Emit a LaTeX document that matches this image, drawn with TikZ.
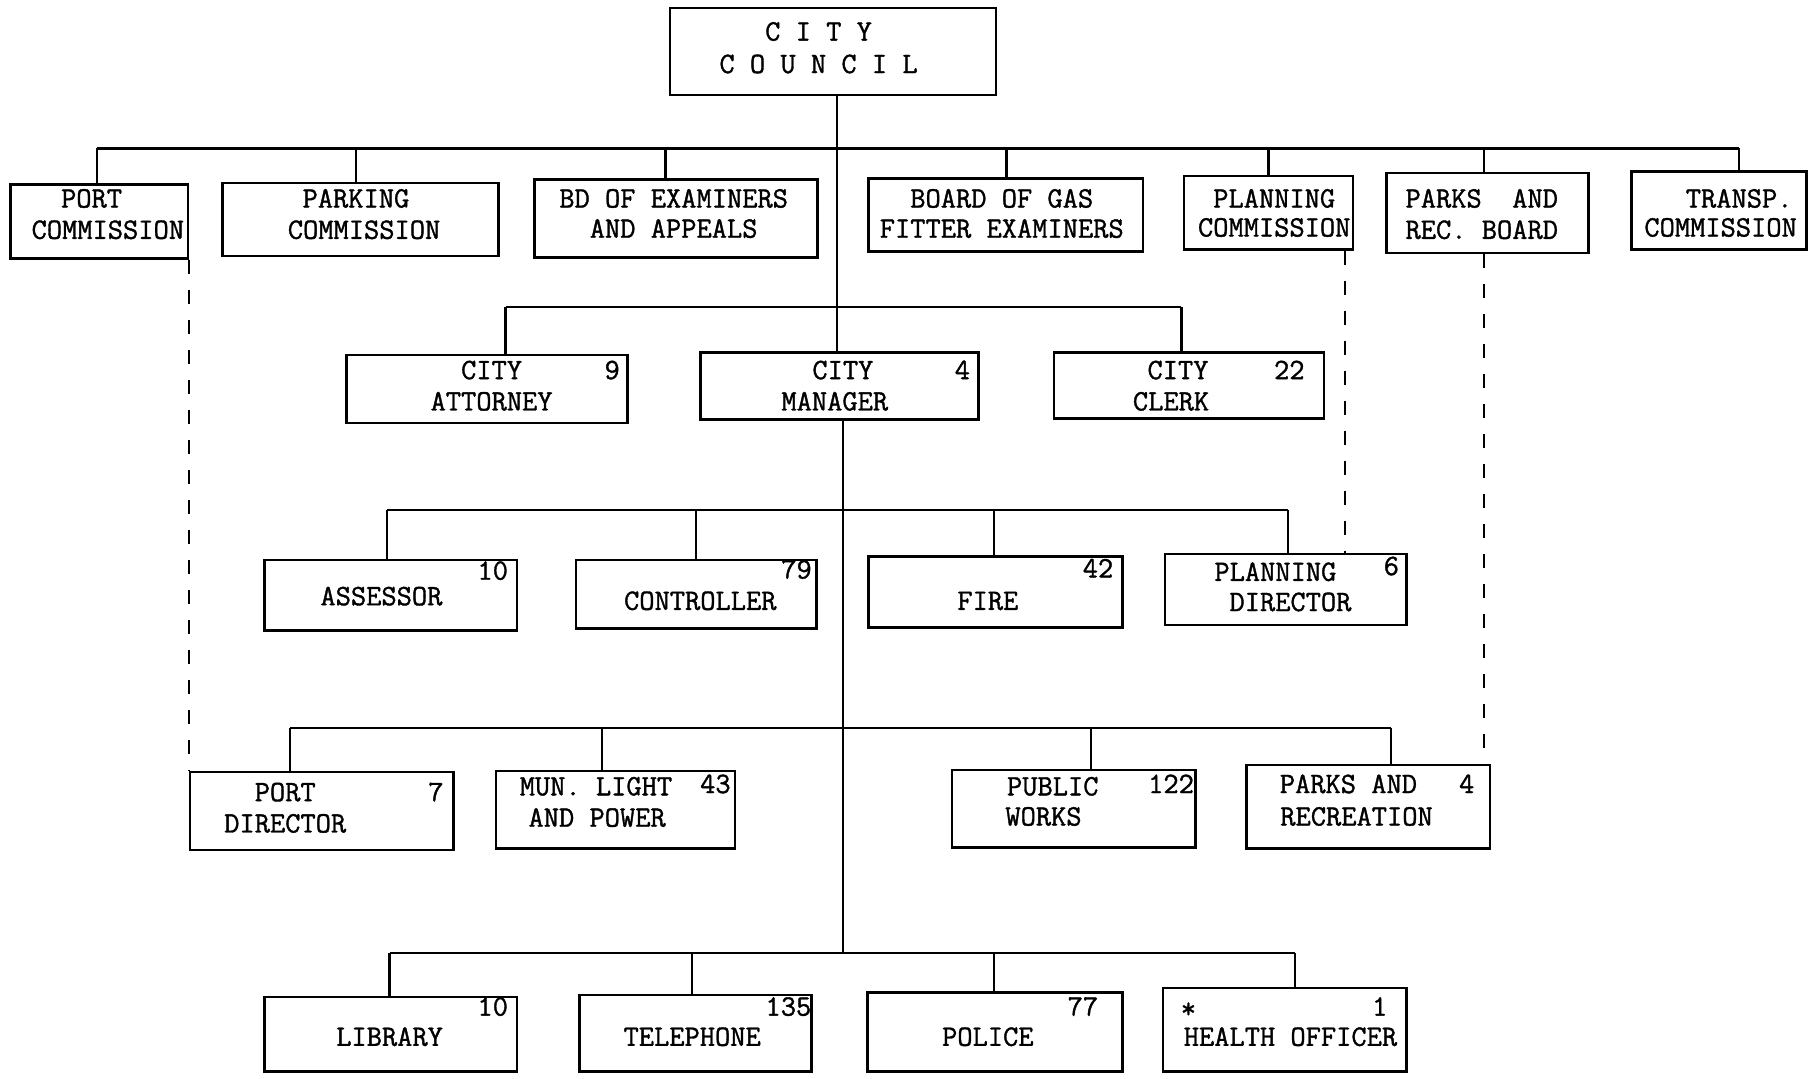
\documentclass[tikz,border=0pt]{standalone}
\usepackage{fontspec}
\newfontfamily\typewriter{Latin Modern Mono}[FakeBold=1.2]
\usetikzlibrary{fit}
\begin{document}
\begin{tikzpicture}[x=0.5797pt,y=-0.5797pt,
  box/.style={draw, line width=1.25pt, inner sep=0pt, rectangle},
  lbl/.style={anchor=base, inner sep=0pt, font=\typewriter\fontsize{14.8}{16}\selectfont},
  link/.style={line width=1.1pt},
  dashlink/.style={line width=1pt, dash pattern=on 7pt off 8pt}]
\useasboundingbox[fill=white] (0,0) rectangle (1568,930);

% ---------- boxes ----------
\node[box, fit={(578,7) (859,82)}] (cc) {};
\node[box, fit={(9,159) (162,223)}] (pc) {};
\node[box, fit={(192,158) (430,221)}] (pk) {};
\node[box, fit={(461,155) (705,222)}] (bd) {};
\node[box, fit={(749,154) (986,217)}] (bg) {};
\node[box, fit={(1021,152) (1167,215)}] (plc) {};
\node[box, fit={(1196,149) (1370,218)}] (prb) {};
\node[box, fit={(1407,148) (1558,215)}] (tc) {};

\node[box, fit={(299,306) (541,365)}] (ca) {};
\node[box, fit={(604,304) (844,362)}] (cm) {};
\node[box, fit={(909,304) (1142,361)}] (ck) {};

\node[box, fit={(228,483) (446,544)}] (as) {};
\node[box, fit={(497,483) (704,542)}] (co) {};
\node[box, fit={(749,480) (968,541)}] (fi) {};
\node[box, fit={(1005,478) (1213,539)}] (pdr) {};

\node[box, fit={(164,666) (391,733)}] (pd) {};
\node[box, fit={(428,665) (634,732)}] (ml) {};
\node[box, fit={(821,664) (1031,731)}] (pw) {};
\node[box, fit={(1075,660) (1285,732)}] (pr) {};

\node[box, fit={(228,860) (446,924)}] (li) {};
\node[box, fit={(500,858) (700,924)}] (te) {};
\node[box, fit={(748,856) (968,924)}] (po) {};
\node[box, fit={(1003,852) (1213,924)}] (ho) {};

% ---------- texts ----------
\node[lbl] (t1) at (706,35) {C I T Y};
\node[lbl] (t2) at (706,63) {C O U N C I L};

\node[lbl] (t3) at (79,179) {PORT};
\node[lbl] (t4) at (93,206) {COMMISSION};
\node[lbl] (t5) at (307,179) {PARKING};
\node[lbl] (t6) at (314,206) {COMMISSION};
\node[lbl] (t7) at (581,179) {BD OF EXAMINERS};
\node[lbl] (t8) at (581,205) {AND APPEALS};
\node[lbl] (t9) at (864,179) {BOARD OF GAS};
\node[lbl] (t10) at (864,205) {FITTER EXAMINERS};
\node[lbl] (t11) at (1099,179) {PLANNING};
\node[lbl] (t12) at (1099,204) {COMMISSION};
\node[lbl] (t13) at (1278,179) {PARKS\ \ AND};
\node[lbl] (t14) at (1278,206) {REC. BOARD};
\node[lbl] (t15) at (1500,179) {TRANSP.};
\node[lbl] (t16) at (1484,204) {COMMISSION};

\node[lbl] (t17) at (424,327) {CITY};
\node[lbl] (t18) at (424,354) {ATTORNEY};
\node[lbl] (t19) at (528,327) {9};
\node[lbl] (t20) at (727,327) {CITY};
\node[lbl] (t21) at (720,354) {MANAGER};
\node[lbl] (t22) at (830,327) {4};
\node[lbl] (t23) at (1016,327) {CITY};
\node[lbl] (t24) at (1010,354) {CLERK};
\node[lbl] (t25) at (1112,327) {22};

\node[lbl] (t26) at (329,522) {ASSESSOR};
\node[lbl] (t27) at (425,500) {10};
\node[lbl] (t28) at (604,526) {CONTROLLER};
\node[lbl] (t29) at (687,499) {79};
\node[lbl] (t30) at (852,526) {FIRE};
\node[lbl] (t31) at (947,498) {42};
\node[lbl] (t32) at (1100,501) {PLANNING};
\node[lbl] (t33) at (1113,527) {DIRECTOR};
\node[lbl] (t34) at (1200,496) {6};

\node[lbl] (t35) at (246,691) {PORT};
\node[lbl] (t36) at (246,718) {DIRECTOR};
\node[lbl] (t37) at (376,691) {7};
\node[lbl] (t38) at (514,686) {MUN. LIGHT};
\node[lbl] (t39) at (617,684) {43};
\node[lbl] (t40) at (515,713) {AND POWER};
\node[lbl] (t41) at (908,686) {PUBLIC};
\node[lbl] (t42) at (900,712) {WORKS};
\node[lbl] (t43) at (1010,684) {122};
\node[lbl] (t44) at (1163,684) {PARKS AND};
\node[lbl] (t45) at (1170,712) {RECREATION};
\node[lbl] (t46) at (1265,684) {4};

\node[lbl] (t47) at (425,876) {10};
\node[lbl] (t48) at (336,902) {LIBRARY};
\node[lbl] (t49) at (680,876) {135};
\node[lbl] (t50) at (597,902) {TELEPHONE};
\node[lbl] (t51) at (934,876) {77};
\node[lbl] (t52) at (852,902) {POLICE};
\node[lbl] (t53) at (1025,878) {*};
\node[lbl] (t54) at (1190,876) {1};
\node[lbl] (t55) at (1113,902) {HEALTH OFFICER};

% ---------- bus coordinates ----------
\coordinate (m1) at (722,128);
\coordinate (m5) at (727,822);
\coordinate (b1a) at (84,128);   \coordinate (b1b) at (307,128);
\coordinate (b1c) at (574,128);  \coordinate (b1d) at (868,128);
\coordinate (b1e) at (1094,128); \coordinate (b1f) at (1280,128);
\coordinate (b1g) at (1500,128);
\coordinate (b2a) at (436,265);  \coordinate (b2c) at (1019,265);
\coordinate (b3a) at (334,440);  \coordinate (b3b) at (600,440);
\coordinate (b3c) at (857,440);  \coordinate (b3d) at (1111,440);
\coordinate (b4a) at (250,628);  \coordinate (b4b) at (519,628);
\coordinate (b4c) at (941,628);  \coordinate (b4d) at (1200,628);
\coordinate (b5a) at (336,822);  \coordinate (b5b) at (597,822);
\coordinate (b5c) at (857,822);  \coordinate (b5d) at (1117,822);

% ---------- connectors ----------
\draw[link] (m1 |- cc.south) -- (m1 |- cm.north);
\draw[link] (m5 |- cm.south) -- (m5);

\draw[link] (b1a) -- (b1g);
\foreach \d/\b in {b1a/pc,b1b/pk,b1c/bd,b1d/bg,b1e/plc,b1f/prb,b1g/tc}
  \draw[link] (\d) -- (\d |- \b.north);

\draw[link] (b2a) -- (b2c);
\foreach \d/\b in {b2a/ca,b2c/ck}
  \draw[link] (\d) -- (\d |- \b.north);

\draw[link] (b3a) -- (b3d);
\foreach \d/\b in {b3a/as,b3b/co,b3c/fi,b3d/pdr}
  \draw[link] (\d) -- (\d |- \b.north);

\draw[link] (b4a) -- (b4d);
\foreach \d/\b in {b4a/pd,b4b/ml,b4c/pw,b4d/pr}
  \draw[link] (\d) -- (\d |- \b.north);

\draw[link] (b5a) -- (b5d);
\foreach \d/\b in {b5a/li,b5b/te,b5c/po,b5d/ho}
  \draw[link] (\d) -- (\d |- \b.north);

% ---------- dashed links ----------
\coordinate (dx1) at (163,0);
\coordinate (dx2) at (1160,0);
\coordinate (dx3) at (1280,0);
\draw[dashlink] (dx1 |- pc.south) -- (dx1 |- pd.north);
\draw[dashlink] (dx2 |- plc.south) -- (dx2 |- pdr.north);
\draw[dashlink] (dx3 |- prb.south) -- (dx3 |- pr.north);
\end{tikzpicture}
\end{document}
